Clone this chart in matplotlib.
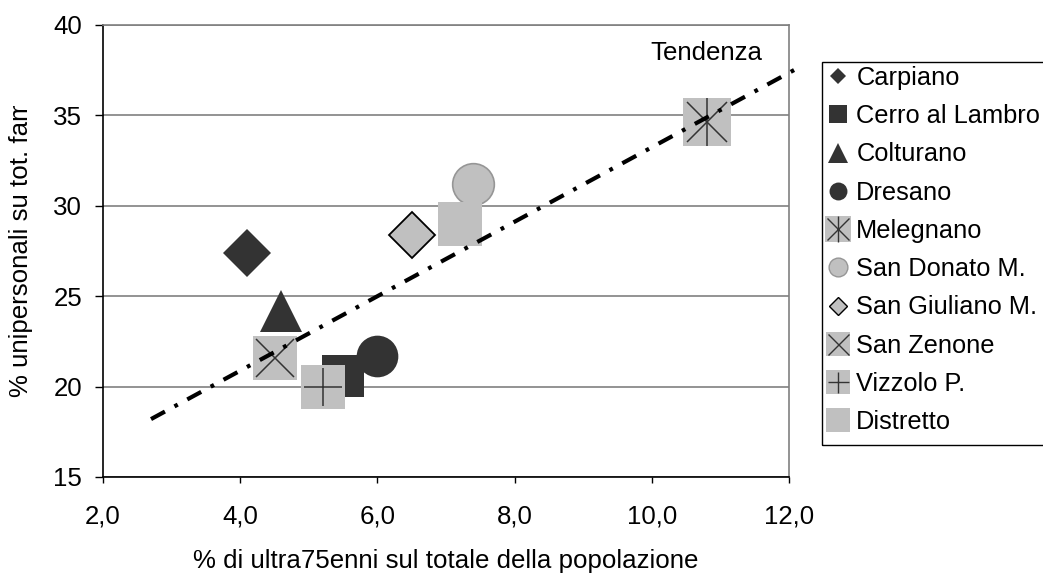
import matplotlib
matplotlib.use('Agg')
import matplotlib.pyplot as plt
from matplotlib.patches import Rectangle
from matplotlib.lines import Line2D
from matplotlib.legend_handler import HandlerTuple
from matplotlib.transforms import Bbox, TransformedBbox

plt.rcParams['font.family'] = ['Liberation Sans', 'DejaVu Sans']

# ---------------- data ----------------
names = ['Carpiano', 'Cerro al Lambro', 'Colturano', 'Dresano', 'Melegnano',
         'San Donato M.', 'San Giuliano M.', 'San Zenone', 'Vizzolo P.', 'Distretto']
x_vals = [4.1, 5.5, 4.6, 6.0, 10.8, 7.4, 6.5, 4.5, 5.2, 7.2]
y_vals = [27.4, 20.6, 24.2, 21.7, 34.6, 31.2, 28.4, 21.6, 20.0, 29.0]
trend_x = [2.7, 12.15]
trend_y = [18.2, 37.65]
x_ticks = [2, 4, 6, 8, 10, 12]
x_tick_labels = ['2,0', '4,0', '6,0', '8,0', '10,0', '12,0']
y_ticks = [15, 20, 25, 30, 35, 40]
y_tick_labels = ['15', '20', '25', '30', '35', '40']

FS = 18.6
LFS = 18.3
DARK = '#333333'
GRAY = '#C0C0C0'

# marker layers per series: (marker, size, face, edge, edge width)
styles = [
    [('D', 24, DARK, DARK, 0)],
    [('s', 30, DARK, DARK, 0)],
    [('^', 30, DARK, DARK, 0)],
    [('o', 30, DARK, DARK, 0)],
    [('s', 34.5, GRAY, GRAY, 0), ('x', 29, DARK, DARK, 1.1), ('|', 34, DARK, DARK, 1.1)],
    [('o', 30, GRAY, '#969696', 1.2)],
    [('D', 23.5, GRAY, 'black', 1.3)],
    [('s', 32, GRAY, GRAY, 0), ('x', 27, DARK, DARK, 1.1)],
    [('s', 32, GRAY, GRAY, 0), ('+', 27, DARK, DARK, 1.1)],
    [('s', 32, GRAY, GRAY, 0)],
]
legend_scale = [0.36, 0.43, 0.47, 0.43, 0.53, 0.45, 0.4, 0.56, 0.56, 0.56]

W, H = 1043, 573
fig = plt.figure(figsize=(W / 100, H / 100), dpi=100)
ax = fig.add_axes([103 / W, 1 - 477 / H, (789 - 103) / W, (477 - 24.7) / H])

handles = []
for i, name in enumerate(names):
    layers = []
    for (m, ms, fc, ec, ew) in styles[i]:
        ax.plot([x_vals[i]], [y_vals[i]], linestyle='none', marker=m, ms=ms,
                mfc=fc, mec=ec, mew=ew, zorder=3 + i * 0.1, clip_on=False)
        layers.append(Line2D([], [], linestyle='none', marker=m,
                             ms=ms * legend_scale[i],
                             mfc=fc, mec=ec, mew=min(ew, 1.0)))
    handles.append(tuple(layers))

ax.plot(trend_x, trend_y, color='black', lw=3,
        linestyle=(0, (3.8, 2.6, 0.9, 2.6)), zorder=10, clip_on=False)

ax.text(10.8, 38.05, 'Tendenza', ha='center', va='baseline', fontsize=FS)

ax.set_xlim(2, 12)
ax.set_ylim(15, 40)
ax.set_xticks(x_ticks)
ax.set_xticklabels(x_tick_labels)
ax.set_yticks(y_ticks)
ax.set_yticklabels(y_tick_labels)
ax.yaxis.grid(True, color='#808080', lw=1.2)
ax.set_axisbelow(True)
for s in ['left', 'bottom']:
    ax.spines[s].set_color('black')
    ax.spines[s].set_linewidth(1.2)
for s in ['top', 'right']:
    ax.spines[s].set_color('#808080')
    ax.spines[s].set_linewidth(1.2)
ax.tick_params(axis='y', direction='out', length=6, width=1, pad=9, labelsize=FS)
ax.tick_params(axis='x', direction='out', length=4.5, width=1, pad=15.5, labelsize=FS)

fig.text(445.5 / W, 5 / H, '% di ultra75enni sul totale della popolazione',
         ha='center', va='baseline', fontsize=FS)
ylab = fig.text(21 / W, 1 - 397 / H, '% unipersonali su tot. famiglie', rotation=90,
                ha='center', va='bottom', fontsize=FS)
ylab.set_clip_box(TransformedBbox(Bbox([[0, 0], [0.09, 1 - 106 / H]]), fig.transFigure))
ylab.set_clip_on(True)

# legend box (extends past the right edge like the original)
fig.patches.append(Rectangle((822 / W, 1 - 445 / H), 0.3, (445 - 62) / H,
                             transform=fig.transFigure, fill=False,
                             edgecolor='black', lw=1.0))
fig.legend(handles, names, loc='upper left', bbox_to_anchor=(825 / W, 1 - 66 / H),
           frameon=False, borderpad=0, borderaxespad=0, handlelength=1.0,
           handletextpad=0.23, labelspacing=0.56, fontsize=LFS,
           handler_map={tuple: HandlerTuple(ndivide=1, pad=0)})

fig.savefig('out.png', dpi=100)
